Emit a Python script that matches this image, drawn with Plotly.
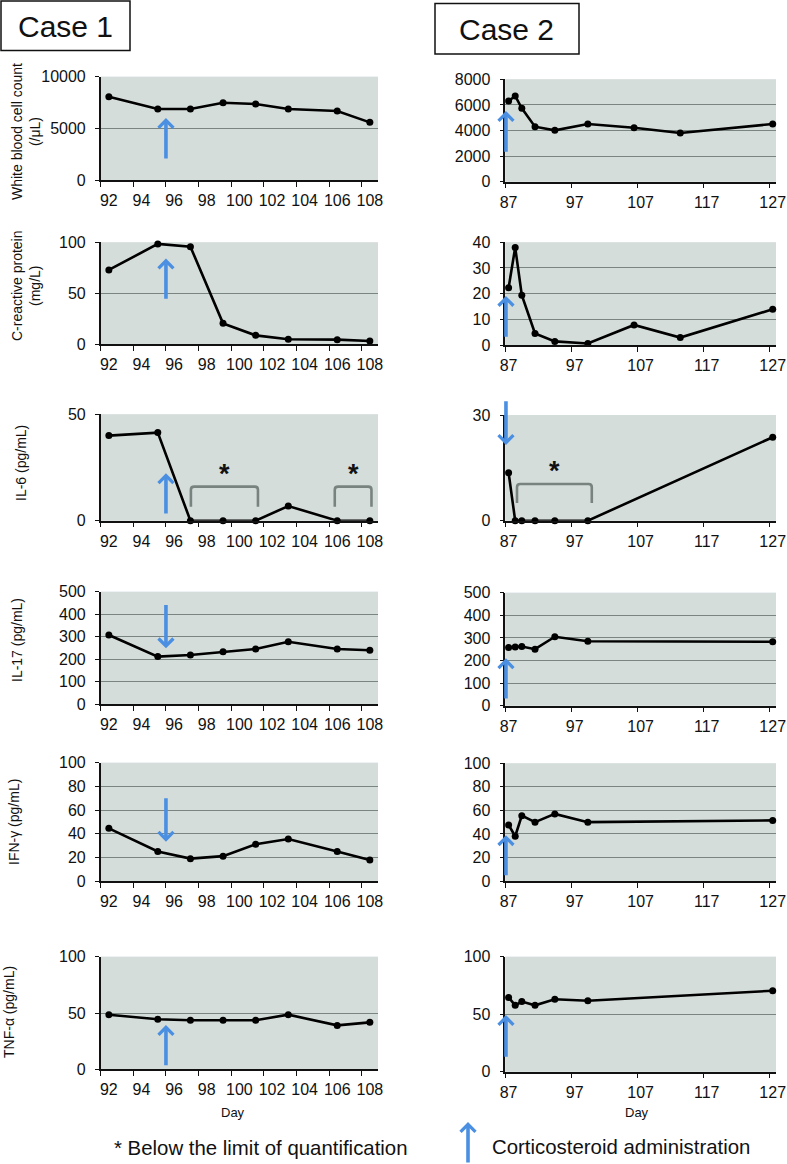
import plotly.graph_objects as go

W, H = 787, 1164

# ---------------- data ----------------
case1_days = [92, 95, 97, 99, 101, 103, 106, 108]
c1_wbc = [8070, 6870, 6870, 7480, 7360, 6870, 6680, 5580]
c1_crp = [72.8, 98.4, 95.7, 20.3, 8.5, 4.6, 4.3, 3.0]
c1_il6 = [40.0, 41.4, 0, 0, 0, 6.9, 0, 0]
c1_il17 = [307, 211, 218, 233, 245, 277, 245, 239]
c1_ifng = [44.5, 25, 18.9, 21, 31, 35.5, 25, 17.7]
c1_tnfa = [48.5, 44.4, 43.5, 43.5, 43.5, 48.5, 39, 41.7]

case2_days_lab = [87, 88, 89, 91, 94, 99, 106, 113, 127]
c2_wbc = [6300, 6700, 5730, 4300, 4010, 4510, 4220, 3800, 4510]
c2_crp = [22.3, 38, 19.4, 4.5, 1.4, 0.6, 7.8, 2.9, 13.9]
case2_days_cyt = [87, 88, 89, 91, 94, 99, 127]
c2_il6 = [13.6, 0, 0, 0, 0, 0, 23.7]
c2_il17 = [258, 260, 262, 250, 305, 285, 283]
c2_ifng = [47.6, 38, 55.5, 50, 57, 50, 51.5]
c2_tnfa = [64.6, 57.7, 61, 57.7, 63, 61.7, 70.4]

case1_ticks = [92, 94, 96, 98, 100, 102, 104, 106, 108]
case2_ticks = [87, 97, 107, 117, 127]

y_titles = ["White blood cell count<br>(/μL)", "C-reactive protein<br>(mg/L)",
            "IL-6 (pg/mL)", "IL-17 (pg/mL)", "IFN-γ (pg/mL)", "TNF-α (pg/mL)"]
c1_yrange = [10000, 100, 50, 500, 100, 100]
c1_ydtick = [5000, 50, 50, 100, 20, 50]
c2_yrange = [8000, 40, 30, 500, 100, 100]
c2_ydtick = [2000, 10, 30, 100, 20, 50]

c1_series = [c1_wbc, c1_crp, c1_il6, c1_il17, c1_ifng, c1_tnfa]
c2_series = [c2_wbc, c2_crp, c2_il6, c2_il17, c2_ifng, c2_tnfa]
c2_days = [case2_days_lab, case2_days_lab] + [case2_days_cyt] * 4

# corticosteroid arrows: (tail y, tip y) per panel
c1_arrow_x = 95.5
c1_arrows = [(1935, 6000), (43, 84), (2.7, 22.3), (448, 248), (71.3, 33.2), (2.3, 39.3)]
c2_arrow_x = 86.6
c2_arrows = [(2220, 5520), (2.6, 19.1), (34.3, 21.5), (25, 210), (3.6, 38.9), (11.7, 49.3)]

# "below limit of quantification" brackets (IL-6 panels): x0, x1, top, leg
c1_brackets = [(97.03, 101.14, 16, 6.6), (105.85, 108.1, 16, 6.6)]
c2_brackets = [(88.27, 99.6, 10.4, 5.0)]

# ---------------- layout geometry (pixels) ----------------
c1_xpx = (100.7, 378)
c2_xpx = (505.3, 776)
row_px = [((76.7, 180), (79.3, 181.7)), ((242.3, 344), (242.3, 345)),
          ((414.3, 520.7), (415, 520.7)), ((591.7, 704), (592.7, 705.7)),
          ((762.7, 881), (763.3, 881)), ((956.7, 1069.3), (956.7, 1071.7))]
title_pos = [(None, 132), (None, 286), (21, 463), (17, 640), (14, 822), (9, 1012)]

FONT = "Arial, Liberation Sans, sans-serif"
BG = "rgb(212,221,218)"
GRID = "rgb(122,132,129)"
BLUE = "rgb(74,143,226)"
BRK = "rgb(120,130,127)"

fig = go.Figure()
layout = dict(width=W, height=H, margin=dict(l=0, r=0, t=0, b=0, autoexpand=False),
              paper_bgcolor="white", showlegend=False,
              font=dict(family=FONT, color="#111"))
annotations = []
shapes = []


def xdom(p):
    return [p[0] / W, p[1] / W]


def ydom(p):
    return [1 - p[1] / H, 1 - p[0] / H]


n = 0
for r in range(6):
    for c in range(2):
        n += 1
        xa = "x" if n == 1 else f"x{n}"
        ya = "y" if n == 1 else f"y{n}"
        xkey = "xaxis" if n == 1 else f"xaxis{n}"
        ykey = "yaxis" if n == 1 else f"yaxis{n}"
        if c == 0:
            xs, ys = case1_days, c1_series[r]
            xr = [91.5, 108.5]
            tv = case1_ticks
            minor_tv = [t - 0.5 for t in case1_ticks]
            ymax, dt = c1_yrange[r], c1_ydtick[r]
            xd = xdom(c1_xpx)
            yd = ydom(row_px[r][0])
        else:
            xs, ys = c2_days[r], c2_series[r]
            xr = [86.5, 127.5]
            tv = case2_ticks
            minor_tv = [t - 0.5 for t in case2_ticks]
            ymax, dt = c2_yrange[r], c2_ydtick[r]
            xd = xdom(c2_xpx)
            yd = ydom(row_px[r][1])
        fig.add_trace(go.Scatter(x=xs, y=ys, xaxis=xa, yaxis=ya, mode="lines+markers",
                                 line=dict(color="black", width=2.6),
                                 marker=dict(color="black", size=7),
                                 cliponaxis=False, hoverinfo="skip"))
        layout[xkey] = dict(domain=xd, range=xr, anchor=ya, tickmode="array", tickvals=tv,
                            ticktext=[str(t) for t in tv], ticks="outside", ticklen=5,
                            tickcolor="rgba(0,0,0,0)", showgrid=False, zeroline=False,
                            showline=True, linecolor="#111", linewidth=1.5,
                            tickfont=dict(size=16, color="#111"), automargin=False,
                            ticklabeloverflow="allow",
                            minor=dict(tickmode="array", tickvals=minor_tv, ticks="outside",
                                       ticklen=5, tickcolor="#111", tickwidth=1.3,
                                       showgrid=False),
                            fixedrange=True)
        layout[ykey] = dict(domain=yd, range=[0, ymax], anchor=xa, tickmode="linear", tick0=0,
                            dtick=dt, ticks="outside", ticklen=4, tickcolor="#111",
                            tickwidth=1.3, showgrid=True, gridcolor=GRID, gridwidth=1.3,
                            zeroline=False, showline=True, linecolor="#111", linewidth=1.5,
                            tickformat="d", automargin=False,
                            tickfont=dict(size=16, color="#111"), ticklabelstandoff=6,
                            fixedrange=True)
        # plot background rectangle
        shapes.append(dict(type="rect", xref=f"{xa} domain", yref=f"{ya} domain",
                           x0=0, x1=1, y0=0, y1=1, fillcolor=BG, line=dict(width=0),
                           layer="below"))
        # arrows
        if c == 0:
            ax_x, (tail, tip) = c1_arrow_x, c1_arrows[r]
        else:
            ax_x, (tail, tip) = c2_arrow_x, c2_arrows[r]
        annotations.append(dict(xref=xa, yref=ya, axref=xa, ayref=ya, x=ax_x, y=tip,
                                ax=ax_x, ay=tail, text="", showarrow=True, arrowhead=4,
                                arrowsize=0.8, arrowwidth=3.6, arrowcolor=BLUE, standoff=0))
        # brackets and asterisks on IL-6
        if r == 2:
            brs = c1_brackets if c == 0 else c2_brackets
            for (x0, x1, yt, yl) in brs:
                rx = (xr[1] - xr[0]) * 0.012
                ry = ymax * 0.03
                path = (f"M {x0},{yl} L {x0},{yt - ry} Q {x0},{yt} {x0 + rx},{yt} "
                        f"L {x1 - rx},{yt} Q {x1},{yt} {x1},{yt - ry} L {x1},{yl}")
                shapes.append(dict(type="path", xref=xa, yref=ya, path=path,
                                   line=dict(color=BRK, width=2.6)))
                annotations.append(dict(xref=xa, yref=ya, x=(x0 + x1) / 2, y=yt,
                                        text="<b>*</b>", showarrow=False, yanchor="bottom",
                                        yshift=-4, font=dict(size=27, color="#111")))

# y axis titles (case 1)
for r in range(6):
    xpx, ypx = title_pos[r]
    if xpx is None:
        xpx = 26
    annotations.append(dict(xref="paper", yref="paper", x=xpx / W, y=1 - ypx / H,
                            text=y_titles[r], textangle=-90, showarrow=False,
                            xanchor="center", yanchor="middle",
                            font=dict(size=14, color="#111")))

# Day labels
for xpx in (233, 637):
    annotations.append(dict(xref="paper", yref="paper", x=xpx / W, y=1 - 1112 / H,
                            text="Day", showarrow=False, xanchor="center", yanchor="middle",
                            font=dict(size=13, color="#111")))

# Case boxes
shapes.append(dict(type="rect", xref="paper", yref="paper", x0=1 / W, x1=130 / W,
                   y0=1 - 50.5 / H, y1=1 - 1 / H, line=dict(color="#111", width=1.5)))
shapes.append(dict(type="rect", xref="paper", yref="paper", x0=435 / W, x1=579 / W,
                   y0=1 - 54 / H, y1=1 - 3.5 / H, line=dict(color="#111", width=1.5)))
annotations.append(dict(xref="paper", yref="paper", x=65 / W, y=1 - 26 / H, text="Case 1",
                        showarrow=False, xanchor="center", yanchor="middle",
                        font=dict(size=30, color="#111")))
annotations.append(dict(xref="paper", yref="paper", x=507 / W, y=1 - 29 / H, text="Case 2",
                        showarrow=False, xanchor="center", yanchor="middle",
                        font=dict(size=30, color="#111")))

# bottom legend
annotations.append(dict(xref="paper", yref="paper", x=112 / W, y=1 - 1148 / H,
                        text="* Below the limit of quantification", showarrow=False,
                        xanchor="left", yanchor="middle", font=dict(size=20.4, color="#111")))
annotations.append(dict(xref="paper", yref="paper", x=468 / W, y=1 - 1122 / H, text="",
                        showarrow=True, ax=0, ay=46, arrowhead=4, arrowsize=0.8,
                        arrowwidth=3.6, arrowcolor=BLUE, standoff=0))
annotations.append(dict(xref="paper", yref="paper", x=490 / W, y=1 - 1147 / H,
                        text="Corticosteroid administration", showarrow=False,
                        xanchor="left", yanchor="middle", font=dict(size=20.4, color="#111")))

layout["annotations"] = annotations
layout["shapes"] = shapes
fig.update_layout(**layout)
fig.write_html("out.html", config={"displayModeBar": False},
               post_script="document.body.style.margin='0';document.body.style.overflow='hidden';")
